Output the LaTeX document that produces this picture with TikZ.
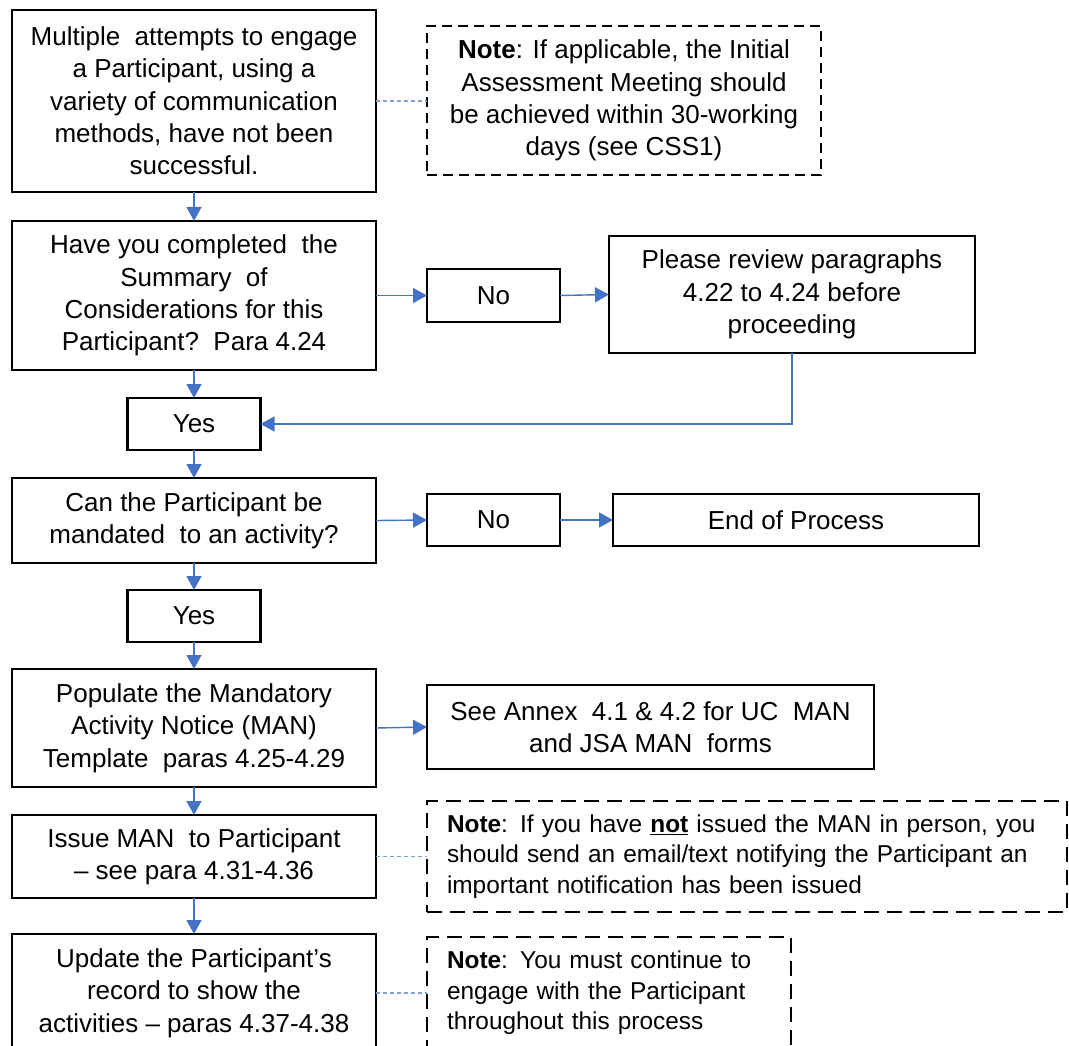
\documentclass[tikz,border=0pt]{standalone}
\usepackage{fontspec}
\setmainfont{Liberation Sans}
\usetikzlibrary{arrows.meta}
\definecolor{flowblue}{HTML}{4472C4}
\definecolor{linkblue}{HTML}{7F9FD8}

\begin{document}
\begin{tikzpicture}[x=1pt,y=-1pt,
  every node/.style={font=\fontsize{26}{32.3}\selectfont, inner sep=0pt, outer sep=0pt},
  box/.style={draw=black, line width=2.2pt, align=center},
  notebox/.style={draw=black, line width=2.2pt, dash pattern=on 10pt off 6pt},
  longdash/.style={dash pattern=on 15pt off 8pt},
  notetext/.style={font=\fontsize{24.4}{30.4}\selectfont},
  flow/.style={draw=flowblue, line width=1.4pt, -{Triangle[length=14pt,width=15pt]}},
  link/.style={draw=linkblue, line width=1.1pt, dash pattern=on 4pt off 3pt},
]
\clip (0,0) rectangle (1069,1046);

% main column
\node[box, minimum width=364pt, minimum height=182pt] (start) at (194,101)
  {Multiple\ \ attempts to engage\\ a Participant, using a\\ variety of communication\\ methods, have not been\\ successful.};
\node[box, minimum width=364pt, minimum height=149pt] (summary) at (194,295.5)
  {Have you completed\ \ the\\ Summary\ \ of\\ Considerations for this\\ Participant?\ \ Para 4.24};
\node[box, minimum width=133pt, minimum height=52pt] (yesA) at (194,424) {Yes};
\node[box, minimum width=364pt, minimum height=85pt] (mandate) at (194,520.5)
  {Can the Participant be\\ mandated\ \ to an activity?};
\node[box, minimum width=133pt, minimum height=52pt] (yesB) at (194,616) {Yes};
\node[box, minimum width=364pt, minimum height=118pt] (populate) at (194,728)
  {Populate the Mandatory\\ Activity Notice (MAN)\\ Template\ \ paras 4.25-4.29};
\node[box, minimum width=364pt, minimum height=83pt] (issue) at (194,856.5)
  {Issue MAN\ \ to Participant\\ – see para 4.31-4.36};
\node[box, minimum width=364pt, minimum height=118pt] (update) at (194,993)
  {Update the Participant’s\\ record to show the\\ activities – paras 4.37-4.38};

% side column
\node[notebox, align=center, minimum width=394pt, minimum height=149pt] (noteA) at (624,100.5)
  {\textbf{Note}: If applicable, the Initial\\ Assessment Meeting should\\ be achieved within 30-working\\ days (see CSS1)};
\node[box, minimum width=133pt, minimum height=53pt] (noA) at (493.5,295.5) {No};
\node[box, minimum width=366pt, minimum height=117pt] (review) at (792,294.5)
  {Please review paragraphs\\ 4.22 to 4.24 before\\ proceeding};
\node[box, minimum width=133pt, minimum height=52pt] (noB) at (493.5,520) {No};
\node[box, minimum width=366pt, minimum height=52pt] (finish) at (796,520) {End of Process};
\node[box, minimum width=447pt, minimum height=84pt] (annex) at (650.5,727)
  {See Annex\ \ 4.1 \& 4.2 for UC\ \ MAN\\ and JSA MAN\ \ forms};
\node[notebox, longdash, notetext, align=left, text width=600pt, inner xsep=20pt, minimum height=111pt] (noteB) at (747,856.5)
  {\mbox{\textbf{Note}: If you have \underline{\textbf{not}} issued the MAN in person, you}\\
   \mbox{should send an email/text notifying the Participant an}\\
   \mbox{important notification has been issued}};
\node[notebox, longdash, notetext, align=left, text width=324pt, inner xsep=20pt, minimum height=112pt] (noteC) at (609,993)
  {\mbox{\textbf{Note}: You must continue to}\\
   \mbox{engage with the Participant}\\
   \mbox{throughout this process}};

% flow connectors
\draw[flow] (start.south) -- (summary.north);
\draw[flow] (summary.east) -- (noA.west);
\draw[flow] (noA.east) -- (review.west);
\draw[flow] (summary.south) -- (yesA.north);
\draw[flow] (review.south) |- (yesA.east);
\draw[flow] (yesA.south) -- (mandate.north);
\draw[flow] (mandate.east) -- (noB.west);
\draw[flow] (noB.east) -- (finish.west);
\draw[flow] (mandate.south) -- (yesB.north);
\draw[flow] (yesB.south) -- (populate.north);
\draw[flow] (populate.east) -- (annex.west);
\draw[flow] (populate.south) -- (issue.north);
\draw[flow] (issue.south) -- (update.north);

% note links
\draw[link] (start.east) -- (start.east -| noteA.west);
\draw[link] (issue.east) -- (noteB.west);
\draw[link] (update.east) -- (noteC.west);
\end{tikzpicture}
\end{document}
